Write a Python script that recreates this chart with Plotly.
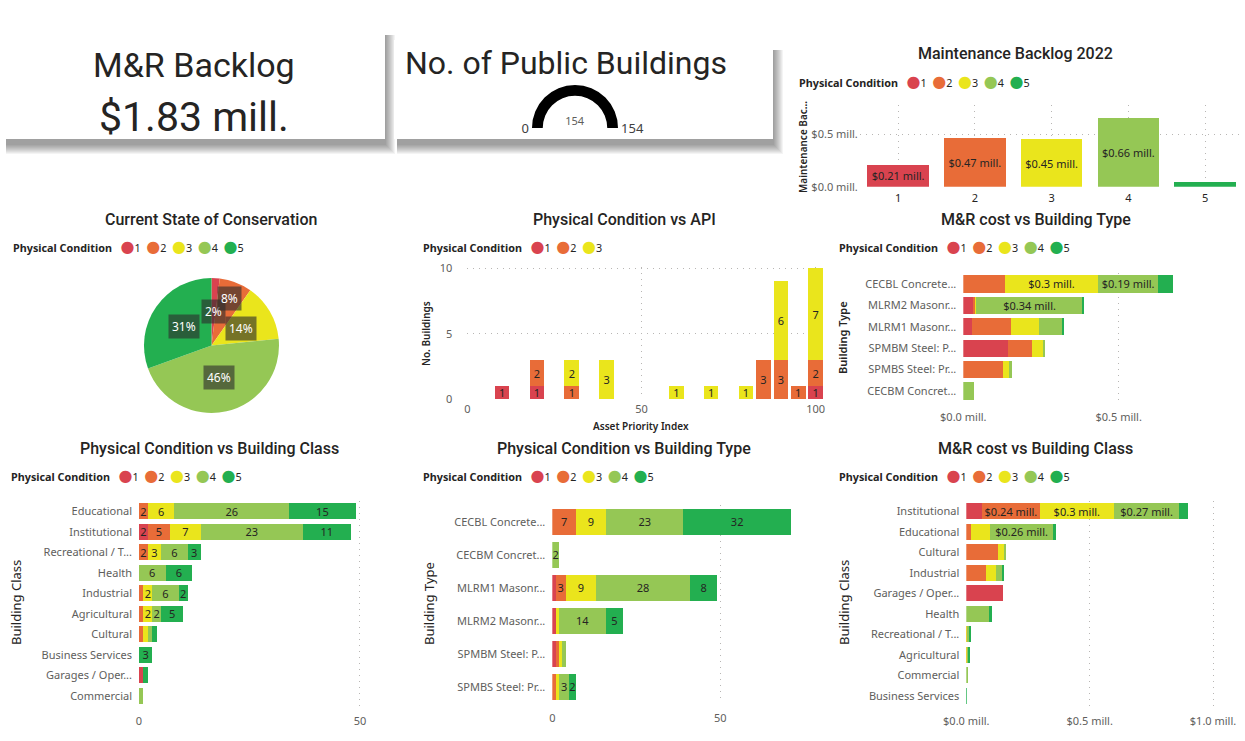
import math
import plotly.graph_objects as go

W, H = 1245, 741
def X(p): return p / W
def Y(p): return 1 - p / H

FONT = "Noto Sans, DejaVu Sans, sans-serif"
TFONT = "Roboto, DejaVu Sans, sans-serif"
DARK = "#252423"
GRAY = "#605E5C"
GRID = "#B8B6B4"

# ---------------- data ----------------
conditions = ["1", "2", "3", "4", "5"]
cond_colors = ["#D9434F", "#E86C38", "#EAE51C", "#95C755", "#23AF50"]

backlog_2022 = [0.209, 0.466, 0.452, 0.658, 0.048]   # $ mill. per physical condition

api_index = [10, 20, 30, 40, 60, 70, 80, 85, 90, 95, 100]
api_cond1 = [1, 1, 0, 0, 0, 0, 0, 0, 0, 0, 1]
api_cond2 = [0, 2, 1, 0, 0, 0, 0, 3, 3, 1, 2]
api_cond3 = [0, 0, 2, 3, 1, 1, 1, 0, 6, 0, 7]

type_cost_labels = ["CECBL Concrete...", "MLRM2 Masonr...", "MLRM1 Masonr...",
                    "SPMBM Steel: P...", "SPMBS Steel: Pr...", "CECBM Concret..."]
type_cost_c1 = [0, 0.035, 0.028, 0.145, 0, 0]
type_cost_c2 = [0.134, 0.004, 0.124, 0.077, 0.128, 0]
type_cost_c3 = [0.300, 0.003, 0.090, 0.036, 0.023, 0]
type_cost_c4 = [0.193, 0.343, 0.078, 0.005, 0.005, 0.035]
type_cost_c5 = [0.049, 0.003, 0.003, 0, 0, 0]

class_labels = ["Educational", "Institutional", "Recreational / T...", "Health", "Industrial",
                "Agricultural", "Cultural", "Business Services", "Garages / Oper...", "Commercial"]
class_count_c1 = [0, 2, 0, 0, 0, 0, 0, 0, 1, 0]
class_count_c2 = [2, 5, 2, 0, 1, 1, 1, 0, 0, 0]
class_count_c3 = [6, 7, 3, 0, 2, 2, 1, 0, 0, 0]
class_count_c4 = [26, 23, 6, 6, 6, 2, 1, 0, 0, 1]
class_count_c5 = [15, 11, 3, 6, 2, 5, 1, 3, 1, 0]

type_labels = ["CECBL Concrete...", "CECBM Concret...", "MLRM1 Masonr...",
               "MLRM2 Masonr...", "SPMBM Steel: P...", "SPMBS Steel: Pr..."]
type_count_c1 = [0, 0, 1, 1, 1, 0]
type_count_c2 = [7, 0, 3, 0, 1, 1]
type_count_c3 = [9, 0, 9, 1, 1, 1]
type_count_c4 = [23, 2, 28, 14, 1, 3]
type_count_c5 = [32, 0, 8, 5, 0, 2]

class_cost_labels = ["Institutional", "Educational", "Cultural", "Industrial", "Garages / Oper...",
                     "Health", "Recreational / T...", "Agricultural", "Commercial", "Business Services"]
class_cost_c1 = [0.063, 0, 0, 0, 0.148, 0, 0, 0, 0, 0]
class_cost_c2 = [0.236, 0.019, 0.128, 0.080, 0, 0, 0.004, 0.003, 0, 0]
class_cost_c3 = [0.298, 0.077, 0.030, 0.040, 0, 0, 0.004, 0.003, 0, 0]
class_cost_c4 = [0.267, 0.256, 0.003, 0.028, 0, 0.092, 0.008, 0.006, 0.008, 0]
class_cost_c5 = [0.036, 0.011, 0, 0.004, 0, 0.012, 0.004, 0.003, 0, 0.003]

# ---------------- helpers ----------------
def nz(vals):
    return [v if v else None for v in vals]

def count_text(vals, minimum=1):
    return [str(v) if v and v >= minimum else "" for v in vals]

def mill(v):
    s = f"{v:.2f}".rstrip("0").rstrip(".")
    return f"${s} mill."

def cost_text(vals, minimum):
    return [mill(v) if v and v >= minimum else "" for v in vals]

LABEL_FONT = dict(family=FONT, size=11, color=DARK)

def bar(xa, ya, x, y, color, text, orientation="v", width=0.8):
    return go.Bar(x=x, y=y, orientation=orientation, marker=dict(color=color, line=dict(width=0)),
                  width=width, text=text, textposition="inside", insidetextanchor="middle",
                  textangle=0, constraintext="none", textfont=LABEL_FONT,
                  xaxis=xa, yaxis=ya, showlegend=False, hoverinfo="skip")

fig = go.Figure()

# A. Maintenance Backlog 2022
fig.add_trace(bar("x", "y", conditions, backlog_2022, cond_colors,
                  cost_text(backlog_2022, 0.1), width=0.8))

# B. Physical condition vs API
for vals, col in zip([api_cond1, api_cond2, api_cond3], cond_colors):
    fig.add_trace(bar("x2", "y2", api_index, nz(vals), col, count_text(vals), width=4.2))

# C. M&R cost vs building type
for vals, col in zip([type_cost_c1, type_cost_c2, type_cost_c3, type_cost_c4, type_cost_c5], cond_colors):
    fig.add_trace(bar("x3", "y3", nz(vals), type_cost_labels, col, cost_text(vals, 0.18), "h"))

# D. Physical condition vs building class
for vals, col in zip([class_count_c1, class_count_c2, class_count_c3, class_count_c4, class_count_c5], cond_colors):
    fig.add_trace(bar("x4", "y4", nz(vals), class_labels, col, count_text(vals, 2), "h"))

# E. Physical condition vs building type
for vals, col in zip([type_count_c1, type_count_c2, type_count_c3, type_count_c4, type_count_c5], cond_colors):
    fig.add_trace(bar("x5", "y5", nz(vals), type_labels, col, count_text(vals, 2), "h"))

# F. M&R cost vs building class
for vals, col in zip([class_cost_c1, class_cost_c2, class_cost_c3, class_cost_c4, class_cost_c5], cond_colors):
    fig.add_trace(bar("x6", "y6", nz(vals), class_cost_labels, col, cost_text(vals, 0.18), "h"))

# Pie: current state of conservation (counts per condition)
all_counts = [class_count_c1, class_count_c2, class_count_c3, class_count_c4, class_count_c5]
pie_counts = [sum(c) for c in all_counts]
n_buildings = sum(pie_counts)
pie_x0, pie_x1, pie_y0, pie_y1 = 144, 279, 278, 413
fig.add_trace(go.Pie(labels=conditions, values=pie_counts, sort=False, direction="clockwise",
                     rotation=0, marker=dict(colors=cond_colors, line=dict(width=0)),
                     textinfo="none", hoverinfo="skip", showlegend=False,
                     domain=dict(x=[X(pie_x0), X(pie_x1)], y=[Y(pie_y1), Y(pie_y0)])))

# Gauge: number of public buildings
fig.add_trace(go.Indicator(
    mode="gauge+number", value=n_buildings,
    number=dict(font=dict(family=FONT, size=11, color=GRAY)),
    gauge=dict(shape="angular",
               axis=dict(range=[0, n_buildings], tickvals=[0, n_buildings], ticks="",
                         tickfont=dict(family=FONT, size=13, color="#404040")),
               bar=dict(color="black", thickness=1), bgcolor="white", borderwidth=0),
    domain=dict(x=[X(515), X(635)], y=[Y(128), Y(85)])))

# ---------------- axes ----------------
TICK = dict(family=FONT, size=11, color=GRAY)
def axis(domain, anchor, **kw):
    d = dict(domain=domain, anchor=anchor, showline=False, zeroline=False, ticks="",
             automargin=False, tickfont=TICK, fixedrange=True, showgrid=False)
    d.update(kw)
    return d
GRIDKW = dict(showgrid=True, gridcolor=GRID, griddash="1px,5px", gridwidth=1)

mill_ticks = [0, 0.5, 1.0]
mill_text = [mill(v).replace("$0 ", "$0.0 ").replace("$1 ", "$1.0 ") for v in mill_ticks]

layout_axes = dict(
    xaxis=axis([X(859.8), X(1243.4)], "y", type="category", tickfont=dict(family=FONT, size=11, color=DARK),
               ticklabelstandoff=3, **GRIDKW),
    yaxis=axis([Y(186.7), Y(105)], "x", range=[0, 0.78], tickvals=mill_ticks[:2], ticktext=mill_text[:2],
               ticklabelstandoff=1, **GRIDKW),
    xaxis2=axis([X(467.3), X(823)], "y2", range=[0, 102.1], tickvals=[0, 50, 100],
                ticklabelstandoff=2, **GRIDKW),
    yaxis2=axis([Y(399.3), Y(267)], "x2", range=[0, 10.1], tickvals=[0, 5, 10],
                ticklabelstandoff=14, **GRIDKW),
    xaxis3=axis([X(963.3), X(1205.7)], "y3", range=[0, 0.78], tickvals=mill_ticks[:2], ticktext=mill_text[:2],
                ticklabelstandoff=7, **GRIDKW),
    yaxis3=axis([Y(401.7), Y(273.3)], "x3", type="category", autorange="reversed", ticklabelstandoff=6),
    xaxis4=axis([X(139), X(368.8)], "y4", range=[0, 52], tickvals=[0, 50], ticklabelstandoff=7, **GRIDKW),
    yaxis4=axis([Y(706), Y(501)], "x4", type="category", autorange="reversed", ticklabelstandoff=6),
    xaxis5=axis([X(552.3), X(801)], "y5", range=[0, 74], tickvals=[0, 50], ticklabelstandoff=7, **GRIDKW),
    yaxis5=axis([Y(703.2), Y(505.2)], "x5", type="category", autorange="reversed", ticklabelstandoff=6),
    xaxis6=axis([X(966.3), X(1215.5)], "y6", range=[0, 1.01], tickvals=mill_ticks, ticktext=mill_text,
                ticklabelstandoff=7, **GRIDKW),
    yaxis6=axis([Y(706), Y(501)], "x6", type="category", autorange="reversed", ticklabelstandoff=6),
)

# ---------------- annotations ----------------
ann = []
def text(x, y, s, size, color=DARK, family=FONT, anchor="center", angle=0, weight=None, **kw):
    f = dict(family=family, size=size, color=color)
    if weight:
        f["weight"] = weight
    ann.append(dict(x=X(x), y=Y(y), xref="paper", yref="paper", text=s, showarrow=False,
                    xanchor=anchor, yanchor="middle", font=f, textangle=angle, **kw))

# KPI cards
total_backlog = sum(backlog_2022)
text(194, 65, "M&R Backlog", 34, family=TFONT)
text(194, 117, f"${total_backlog:.2f} mill.", 41, family=TFONT)
text(566, 63, "No. of Public Buildings", 32, family=TFONT)

# titles
titles = [(1015, 53, "Maintenance Backlog 2022"), (211, 219, "Current State of Conservation"),
          (624, 219, "Physical Condition vs API"), (1036, 219, "M&R cost vs Building Type"),
          (210, 448, "Physical Condition vs Building Class"), (624, 448, "Physical Condition vs Building Type"),
          (1035, 448, "M&R cost vs Building Class")]
for x, y, s in titles:
    text(x, y, s, 16, family=TFONT, weight=500)

# legends
def legend_text(n):
    items = [f"<span style='font-family:DejaVu Sans;font-size:16px;color:{c}'>●</span>{k}"
             for k, c in zip(conditions[:n], cond_colors[:n])]
    return "<b>Physical Condition</b>\u00a0\u00a0\u00a0" + "\u00a0\u00a0".join(items)

for x, y, n in [(797, 81, 5), (11, 247, 5), (421, 247, 3), (837, 247, 5),
                (9, 475, 5), (421, 475, 5), (837, 475, 5)]:
    text(x, y, legend_text(n), 10.8, anchor="left")

# axis titles
text(803, 147, "Maintenance Bac...", 10, angle=-90, weight=600)
text(426, 334, "No. Buildings", 10, angle=-90, weight=600)
text(641, 426, "Asset Priority Index", 10, weight=600)
text(842, 338, "Building Type", 11, angle=-90, weight=600)
text(16, 603, "Building Class", 13, angle=-90)
text(429, 603, "Building Type", 13, angle=-90)
text(844, 603, "Building Class", 13, angle=-90)

# pie percentage labels
cx, cy = (pie_x0 + pie_x1) / 2, (pie_y0 + pie_y1) / 2
r = (pie_x1 - pie_x0) / 2
label_radius = [0.51, 0.75, 0.51, 0.49, 0.5]
cum = 0
for v, f in zip(pie_counts, label_radius):
    mid = (cum + v / 2) / n_buildings * 2 * math.pi
    cum += v
    lx = cx + f * r * math.sin(mid)
    ly = cy - f * r * math.cos(mid)
    text(lx, ly, f"{round(100 * v / n_buildings)}%", 12, color="white",
         bgcolor="rgba(45,45,45,0.62)", borderpad=3)

# ---------------- cards ----------------
shapes = []
cards = [(3, 25, 385, 139), (394, 40, 773, 139)]
for x0, y0, x1, y1 in cards:
    for k in range(10):
        shapes.append(dict(type="rect", xref="paper", yref="paper",
                           x0=X(x0 + 3), x1=X(x1 + 1 + k), y0=Y(y1 + 6 + k), y1=Y(y0 + 10),
                           fillcolor="rgba(0,0,0,0.045)", line=dict(width=0), layer="below"))
for x0, y0, x1, y1 in cards:
    shapes.append(dict(type="rect", xref="paper", yref="paper", x0=X(x0), x1=X(x1),
                       y0=Y(y1), y1=Y(y0), fillcolor="white", line=dict(width=0), layer="below"))

fig.update_layout(width=W, height=H, autosize=False, margin=dict(l=0, r=0, t=0, b=0),
                  template="none", paper_bgcolor="white", plot_bgcolor="rgba(0,0,0,0)",
                  barmode="stack", showlegend=False, font=dict(family=FONT, color=DARK),
                  annotations=ann, shapes=shapes, **layout_axes)

fig.write_html("out.html", config={"displayModeBar": False},
               post_script="document.body.style.margin='0';")
